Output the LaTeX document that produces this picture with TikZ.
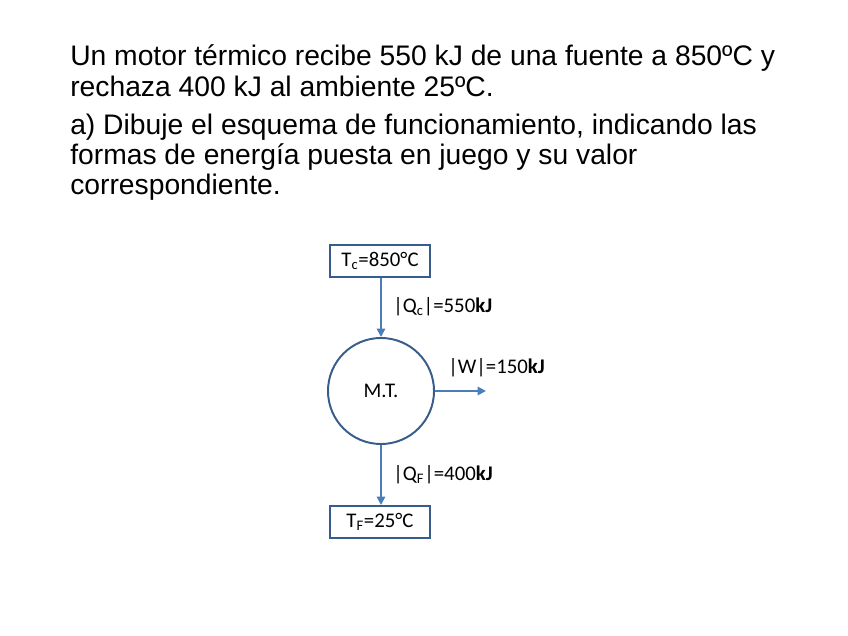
\documentclass[tikz,border=0pt]{standalone}
\usepackage{fontspec}
\setmainfont{Liberation Sans}
\newfontfamily\calibri{Carlito}
\definecolor{boxblue}{RGB}{56,93,138}
\definecolor{arrowblue}{RGB}{74,126,187}
\usetikzlibrary{arrows.meta,positioning}

\begin{document}
\begin{tikzpicture}[x=0.025cm, y=-0.025cm,
    line/.style={anchor=base west, inner sep=0pt, font=\fontsize{20.1}{24}\selectfont},
    tbox/.style={rectangle, draw=boxblue, line width=1.4pt, minimum width=2.5cm, minimum height=0.8cm, font=\calibri\fontsize{14.8}{17}\selectfont},
    engine/.style={circle, draw=boxblue, line width=1.4pt, minimum size=2.65cm, font=\calibri\fontsize{14.8}{17}\selectfont},
    lbl/.style={font=\calibri\fontsize{14.8}{17}\selectfont, inner sep=0pt},
    arrow/.style={-{Triangle[length=6pt, width=6pt]}, line width=1.3pt, arrowblue}
]
    \useasboundingbox (0,0) rectangle (848,636);

    % enunciado
    \node[line] (l1) at (70,66) {Un motor térmico recibe 550 kJ de una fuente a 850ºC y};
    \node[line] (l2) at (70,97) {rechaza 400 kJ al ambiente 25ºC.};
    \node[line] (l3) at (70,135) {a) Dibuje el esquema de funcionamiento, indicando las};
    \node[line] (l4) at (70,165) {formas de energía puesta en juego y su valor};
    \node[line] (l5) at (70,195) {correspondiente.};

    % esquema
    \node[tbox] (hot) at (380,261) {T\textsubscript{c}=850°C};
    \node[engine] (mt) at (381,391) {M.T.};
    \node[tbox] (cold) at (380,522) {T\textsubscript{F}=25°C};
    \coordinate (wout) at (486,391);

    \draw[arrow] (hot.south -| mt.north) -- (mt.north);
    \draw[arrow] (mt.east) -- (wout);
    \draw[arrow] (mt.south) -- (cold.north -| mt.south);

    \node[lbl, anchor=west] (qc) at (393,307) {|Q\textsubscript{c}|=550\textbf{kJ}};
    \node[lbl, anchor=west] (w) at (448,368) {|W|=150\textbf{kJ}};
    \node[lbl, anchor=west] (qf) at (393,475) {|Q\textsubscript{F}|=400\textbf{kJ}};
\end{tikzpicture}
\end{document}
